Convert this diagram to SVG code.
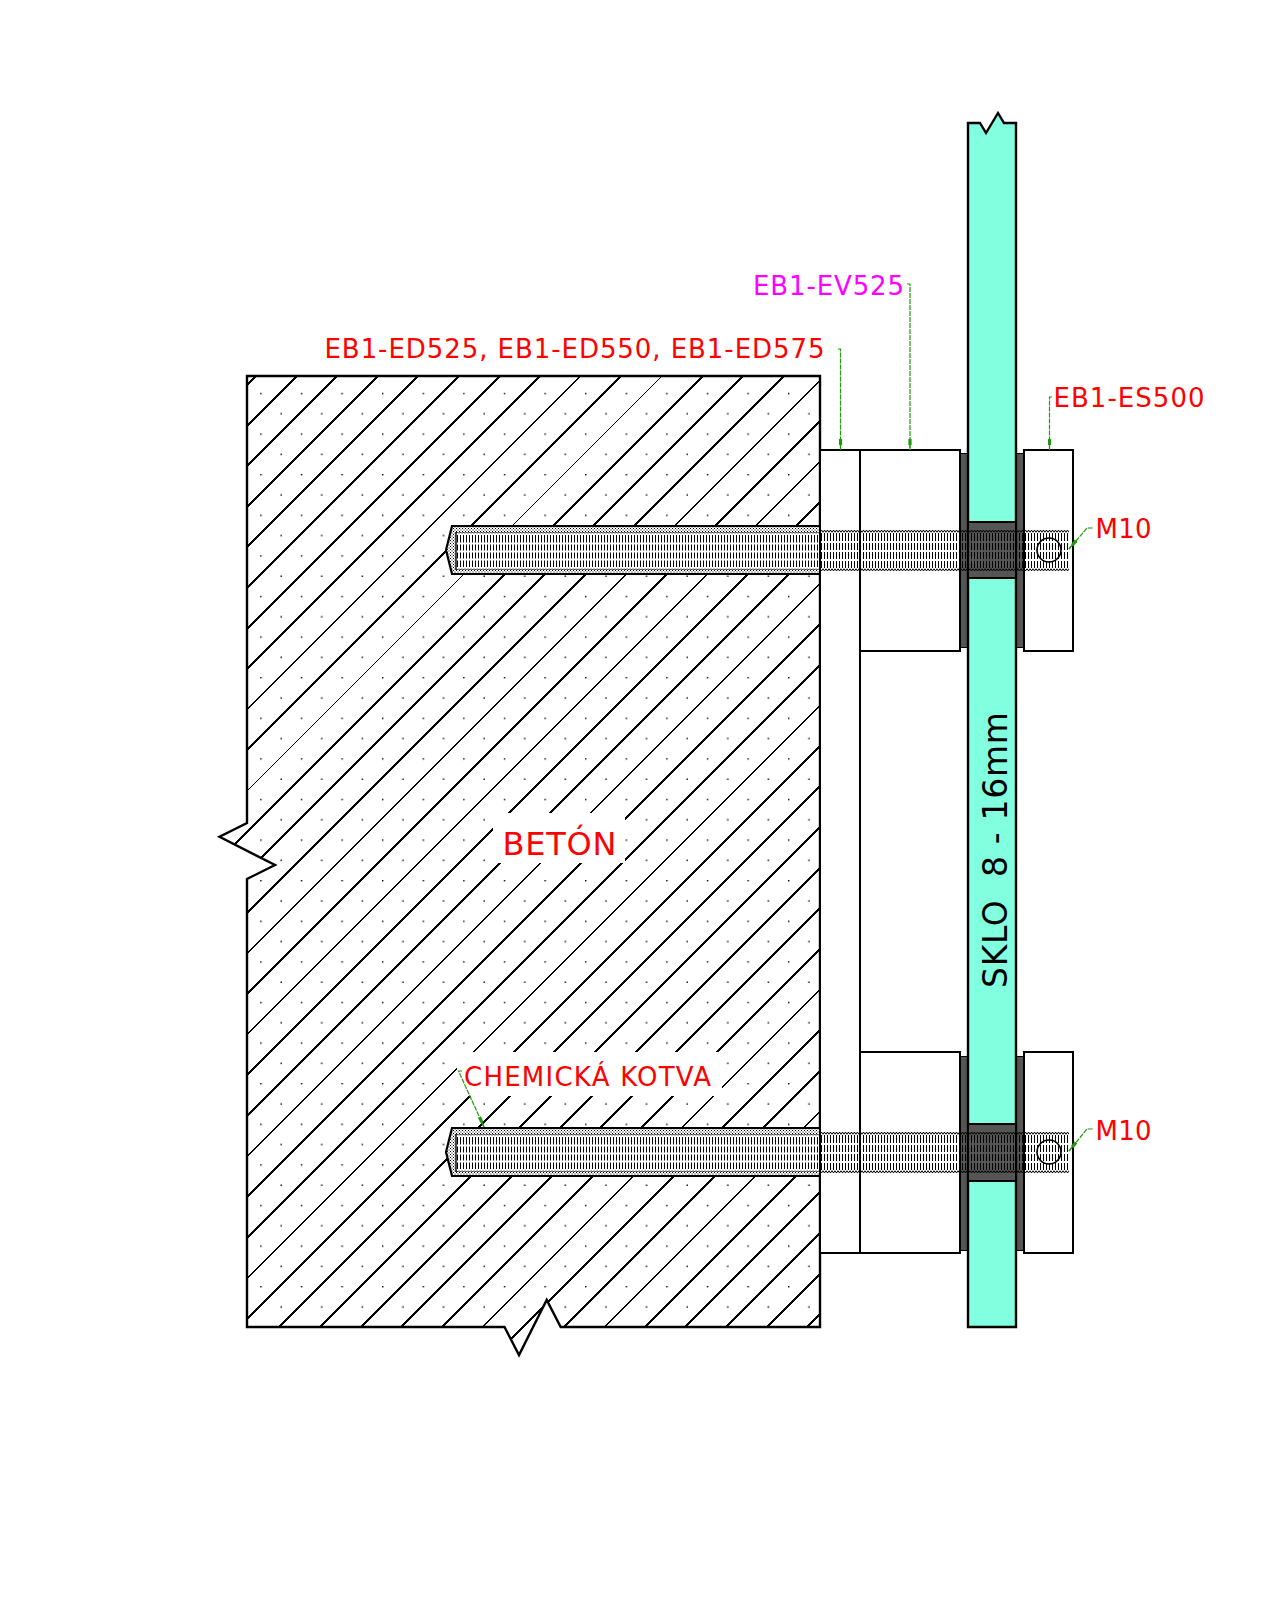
<svg xmlns="http://www.w3.org/2000/svg" xmlns:xlink="http://www.w3.org/1999/xlink" width="1280" height="1600" viewBox="0 0 1280 1600">
<style>
text{font-family:"DejaVu Sans","Liberation Sans",sans-serif;font-size:26px;fill:#ff0000;white-space:pre}
.big{font-size:32px}
.ol{fill:#fff;stroke:#000;stroke-width:2}
.dark{fill:#555;stroke:#000;stroke-width:1}
.glass{fill:#82ffdf;stroke:#000;stroke-width:2.4}
.lead{fill:none;stroke:#1f9a0c;stroke-width:1.2;stroke-dasharray:5 1;marker-end:url(#tip)}
.crisp{shape-rendering:crispEdges}
</style>
<defs>
<marker id="tip" markerUnits="userSpaceOnUse" markerWidth="12" markerHeight="4" refX="11" refY="2" orient="auto">
<rect x="0" y="0.4" width="6" height="3.2" fill="#1f9a0c"/><rect x="6" y="1.4" width="5" height="1.2" fill="#1f9a0c"/>
</marker>
<clipPath id="wall"><path d="M247 376H820V1327H560.7L546.7 1300L519 1355L504.5 1327H247V879L275 865L219.5 836.7L247 823Z"/></clipPath>
<pattern id="dots" patternUnits="userSpaceOnUse" x="260.2" y="392.8" width="40.6" height="40.6">
<rect x="0" y="0" width="1.4" height="1.4" fill="#000"/><rect x="20.3" y="20.3" width="1.4" height="1.4" fill="#000"/>
</pattern>
<pattern id="stip" patternUnits="userSpaceOnUse" width="3" height="3">
<rect x="0" y="0" width="1" height="1" fill="#000"/><rect x="1.5" y="1.5" width="1" height="1" fill="#000"/>
</pattern>
<pattern id="thread" patternUnits="userSpaceOnUse" x="820" y="530" width="3" height="41">
<path d="M0 2.5L1.5 0L3 2.5M0 38.5L1.5 41L3 38.5" fill="none" stroke="#000" stroke-width="1"/>
<path d="M1.5 3V11M1.5 13V20M1.5 22V29M1.5 31V38" fill="none" stroke="#000" stroke-width="1"/>
</pattern>
<pattern id="threadin" patternUnits="userSpaceOnUse" x="456" y="532" width="3" height="38">
<path d="M0 1.5L1.5 0L3 1.5M0 36.5L1.5 38L3 36.5" fill="none" stroke="#000" stroke-width="1"/>
<path d="M1.5 3V10.5M1.5 12.5V18.5M1.5 20.5V26.5M1.5 28.5V35" fill="none" stroke="#000" stroke-width="1"/>
</pattern>
<g id="anchor">
<path d="M820 526H452L446 550L452 574H820Z" fill="#fff"/>
<path d="M820 526H452L446 550L452 574H820Z" fill="url(#stip)"/>
<rect x="456" y="532" width="364" height="38" fill="#fff"/>
<rect x="456" y="532" width="364" height="38" fill="url(#threadin)"/>
<path d="M456 532V570" stroke="#000" stroke-width="1.4" fill="none"/>
<path d="M820 526H452L446 550L452 574H820" fill="none" stroke="#000" stroke-width="2.2"/>
</g>
<g id="stud">
<rect x="820" y="530" width="249" height="41" fill="url(#thread)"/>
<circle cx="1049" cy="550" r="12" fill="none" stroke="#000" stroke-width="1.6"/>
</g>
</defs>
<rect width="1280" height="1600" fill="#fff"/>

<g id="wall-concrete">
<path d="M247 376H820V1327H560.7L546.7 1300L519 1355L504.5 1327H247V879L275 865L219.5 836.7L247 823Z" fill="#fff"/>
<g clip-path="url(#wall)">
<rect x="210" y="370" width="620" height="990" fill="url(#dots)"/>
<path class="crisp" fill="none" stroke="#000" stroke-width="2" d="M200 432l630-630M200 472.6l630-630M200 513.2l630-630M200 553.8l630-630M200 594.4l630-630M200 635l630-630M200 675.6l630-630M200 716.2l630-630M200 797.4l630-630M200 878.6l630-630M200 919.2l630-630M200 959.8l630-630M200 1041l630-630M200 1122.2l630-630M200 1162.8l630-630M200 1244l630-630M200 1284.6l630-630M200 1365.8l630-630M200 1406.4l630-630M200 1447l630-630M200 1487.6l630-630M200 1528.2l630-630M200 1568.8l630-630M200 1650l630-630M200 1690.6l630-630M200 1771.8l630-630M200 1812.4l630-630M200 1853l630-630M200 1893.6l630-630M200 1934.2l630-630"/>
<path class="crisp" fill="none" stroke="#000" stroke-width="1.4" d="M200 756.8l630-630M200 838l630-630M200 1000.4l630-630M200 1081.6l630-630M200 1203.4l630-630M200 1325.2l630-630M200 1609.4l630-630M200 1731.2l630-630"/>
</g>
<path d="M247 376H820V1327H560.7L546.7 1300L519 1355L504.5 1327H247V879L275 865L219.5 836.7L247 823Z" fill="none" stroke="#000" stroke-width="2.4"/>
<rect x="493" y="813" width="132" height="50" fill="#fff"/>
<text class="big" x="502.5" y="855" textLength="114">BETÓN</text>
</g>

<g id="anchor-top"><use href="#anchor"/></g>
<g id="anchor-bottom"><use href="#anchor" y="602"/></g>
<rect x="457" y="1052" width="265" height="44" fill="#fff"/>
<text id="label-kotva" x="464" y="1085.5" textLength="247">CHEMICKÁ KOTVA</text>

<g id="spacer-plate"><rect class="ol crisp" x="820" y="450" width="40" height="803"/></g>
<g id="block-top"><rect class="ol crisp" x="860" y="450" width="100" height="201"/></g>
<g id="block-bottom"><rect class="ol crisp" x="860" y="1052" width="100" height="201"/></g>
<g id="washers">
<rect class="dark crisp" x="960" y="453" width="8" height="194"/>
<rect class="dark crisp" x="1016" y="453" width="8" height="194"/>
<rect class="dark crisp" x="960" y="1056" width="8" height="194"/>
<rect class="dark crisp" x="1016" y="1056" width="8" height="194"/>
</g>
<g id="cap-top"><rect class="ol crisp" x="1024" y="450" width="49" height="201"/></g>
<g id="cap-bottom"><rect class="ol crisp" x="1024" y="1052" width="49" height="201"/></g>

<g id="glass">
<path class="glass" d="M968 123H980L986 133L998 113L1004 123H1016V1327H968Z"/>
<rect class="ol crisp" style="fill:#555" x="968" y="522" width="48" height="56"/>
<rect class="ol crisp" style="fill:#555" x="968" y="1124" width="48" height="57"/>
<text class="big" style="fill:#000;font-size:33px" transform="translate(1006.5 988) rotate(-90)" x="0" y="0" textLength="276">SKLO  8 - 16mm</text>
</g>

<g id="stud-top"><use href="#stud"/></g>
<g id="stud-bottom"><use href="#stud" y="602"/></g>

<g id="connectors">
<path class="lead" d="M838 349H840.5V450"/>
<path class="lead" d="M907 284H910V450"/>
<path class="lead" d="M1052 397H1049.5V450"/>
<path class="lead" d="M1092.7 528H1087L1069 549"/>
<path class="lead" d="M1092.7 1129H1087L1069 1151"/>
<path class="lead" d="M462 1071H458.5L484 1127"/>
</g>

<g id="labels">
<text x="324.5" y="358" textLength="500">EB1-ED525, EB1-ED550, EB1-ED575</text>
<text style="fill:#ff00ff" x="753" y="294.5" textLength="151">EB1-EV525</text>
<text x="1053.5" y="407" textLength="151">EB1-ES500</text>
<text x="1095.5" y="538" textLength="56">M10</text>
<text x="1095.5" y="1140" textLength="56">M10</text>
</g>
</svg>
